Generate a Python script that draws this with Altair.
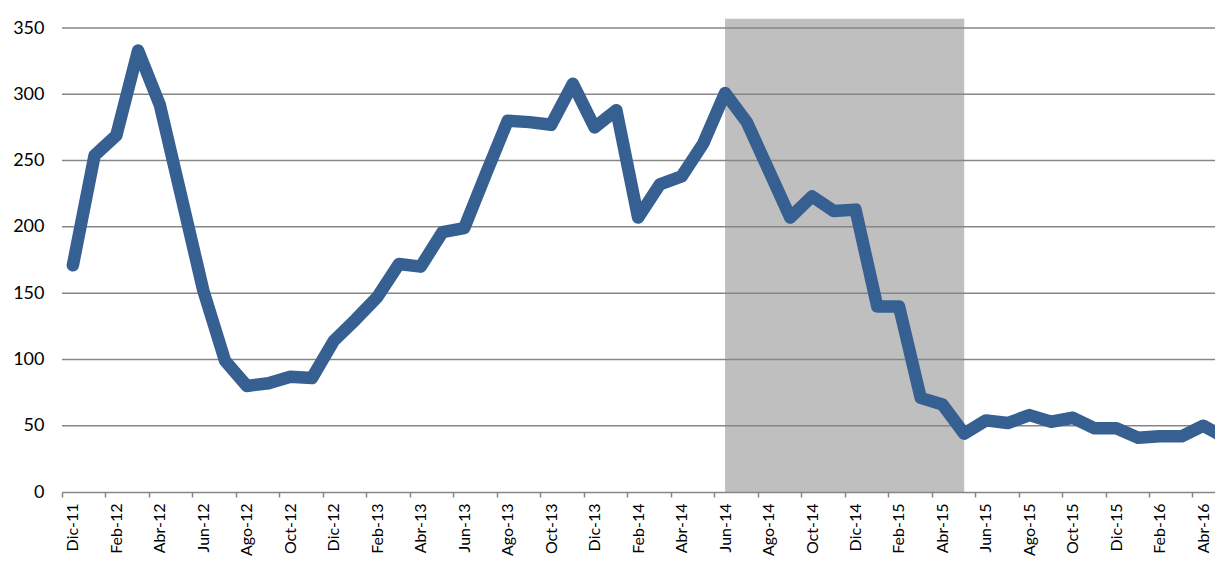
import altair as alt
import pandas as pd

months = ["Dic-11",
          "Ene-12", "Feb-12", "Mar-12", "Abr-12", "May-12", "Jun-12", "Jul-12", "Ago-12", "Sep-12", "Oct-12", "Nov-12", "Dic-12",
          "Ene-13", "Feb-13", "Mar-13", "Abr-13", "May-13", "Jun-13", "Jul-13", "Ago-13", "Sep-13", "Oct-13", "Nov-13", "Dic-13",
          "Ene-14", "Feb-14", "Mar-14", "Abr-14", "May-14", "Jun-14", "Jul-14", "Ago-14", "Sep-14", "Oct-14", "Nov-14", "Dic-14",
          "Ene-15", "Feb-15", "Mar-15", "Abr-15", "May-15", "Jun-15", "Jul-15", "Ago-15", "Sep-15", "Oct-15", "Nov-15", "Dic-15",
          "Ene-16", "Feb-16", "Mar-16", "Abr-16", "May-16"]

values = [171,
          254, 269, 333, 292, 222, 152, 99, 80, 82, 87, 86, 114,
          130, 147, 172, 170, 196, 199, 240, 280, 279, 277, 308, 275,
          288, 207, 232, 238, 263, 301, 279, 243, 207, 223, 212, 213,
          140, 140, 71, 66, 44, 54, 52, 58, 53, 56, 48, 48,
          41, 42, 42, 50, 41]

grid_values = [50, 100, 150, 200, 250, 300, 350]
y_ticks = [0, 50, 100, 150, 200, 250, 300, 350]
band_start = "Jun-14"
band_end = "May-15"
band_top = 357

df = pd.DataFrame({"mes": months, "valor": values})
df["pos"] = [i + 0.5 for i in range(len(months))]

band_df = pd.DataFrame({
    "x0": [months.index(band_start) + 0.5],
    "x1": [months.index(band_end) + 0.5],
    "y0": [0],
    "y1": [band_top],
})
grid_df = pd.DataFrame({"g": grid_values})

label_array = "[" + ",".join("'" + m + "'" for m in months) + "]"

FONT = "Lato"
PLOT_W = 1153
CAT_W = 21.74
x_scale = alt.Scale(domain=[0, PLOT_W / CAT_W], nice=False, zero=False)
y_scale = alt.Scale(domain=[0, 350], nice=False)

x_axis = alt.Axis(
    values=list(range(0, len(months), 2)),
    labelExpr=label_array + "[datum.value]",
    labelAngle=270,
    labelOffset=CAT_W / 2,
    labelPadding=6,
    labelFlush=False,
    labelOverlap=False,
    labelBound=False,
    labelFont=FONT,
    labelFontSize=16,
    labelColor="#000000",
    tickSize=5,
    tickColor="#868686",
    tickWidth=1.5,
    domainColor="#868686",
    domainWidth=1.5,
    grid=False,
    title=None,
    zindex=1,
)

y_axis = alt.Axis(
    values=y_ticks,
    labelFont=FONT,
    labelFontSize=18,
    labelColor="#000000",
    labelPadding=18,
    ticks=False,
    domain=False,
    grid=False,
    title=None,
)

band = alt.Chart(band_df).mark_rect(color="#BFBFBF").encode(
    x=alt.X("x0:Q", scale=x_scale, axis=x_axis),
    x2="x1:Q",
    y=alt.Y("y0:Q", scale=y_scale, axis=y_axis),
    y2="y1:Q",
)

grid = alt.Chart(grid_df).mark_rule(color="#868686", strokeWidth=1.5).encode(
    y=alt.Y("g:Q", scale=y_scale),
)

line = alt.Chart(df).mark_line(
    color="#376092", strokeWidth=12.5, strokeCap="round", strokeJoin="round"
).encode(
    x=alt.X("pos:Q", scale=x_scale),
    y=alt.Y("valor:Q", scale=y_scale),
)

chart = alt.layer(band, grid, line).properties(
    width=PLOT_W,
    height=464,
    autosize=alt.AutoSizeParams(type="none"),
    padding={"left": 54, "top": 20, "right": 0, "bottom": 66},
    background="white",
).configure_view(stroke=None)

chart.save("out.html", embed_options={"renderer": "svg", "actions": False})
